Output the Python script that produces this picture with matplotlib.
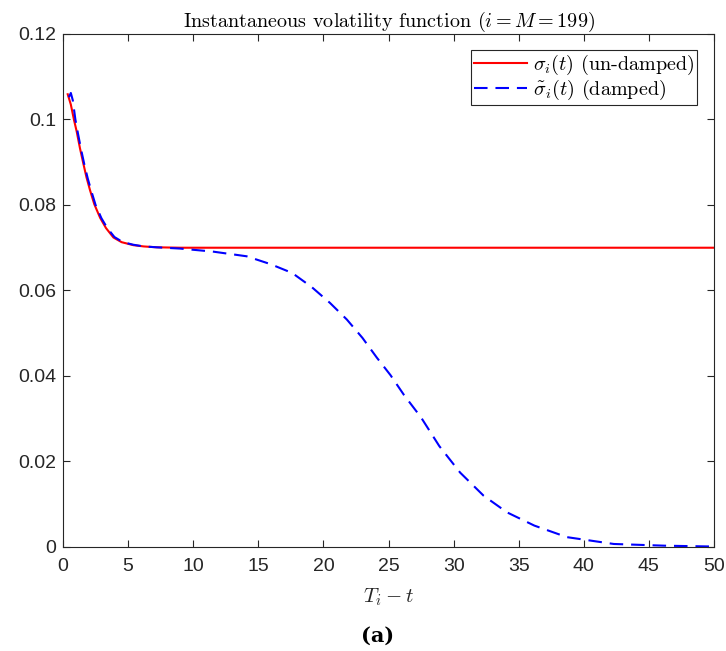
import numpy as np
import matplotlib
matplotlib.use("Agg")
import matplotlib.pyplot as plt

plt.rcParams['mathtext.fontset'] = 'cm'
plt.rcParams['font.family'] = ['Liberation Sans', 'DejaVu Sans']
plt.rcParams['axes.unicode_minus'] = False

# un-damped volatility
x_undamped = [0.36, 0.6, 0.85, 1.05, 1.3, 1.56, 1.8, 2.07, 2.4, 2.85, 3.3, 3.87, 4.5, 5.4, 6.2, 7.2, 9, 12, 20, 30,
              40, 50]
y_undamped = [0.1059, 0.1035, 0.0998, 0.0972, 0.0933, 0.0897, 0.0865, 0.0835, 0.0802, 0.0770, 0.0746, 0.0724, 0.0713,
              0.0706, 0.0703, 0.0701, 0.0700, 0.0700, 0.0700, 0.0700, 0.0700, 0.0700]

# damped volatility
x_damped = [0.45, 0.6, 0.75, 0.95, 1.15, 1.4, 1.65, 1.9, 2.17, 2.5, 2.95, 3.4, 3.95, 4.6, 5.4, 6.2, 7.2, 9, 11.5, 14.1,
            15.9, 17.6, 19.1, 20.5, 21.8, 23.0, 24.1, 25.15, 26.2, 27.5, 28.9, 30.5, 32.3, 34.1, 36.2, 38.7, 42.3,
            46.2, 50]
y_damped = [0.1052, 0.1062, 0.1045, 0.1000, 0.0967, 0.0928, 0.0893, 0.0862, 0.0833, 0.0800, 0.0769, 0.0746, 0.0725,
            0.0713, 0.0707, 0.0703, 0.0701, 0.0698, 0.0691, 0.0680, 0.0662, 0.0641, 0.0608, 0.0571, 0.0532, 0.0489,
            0.0443, 0.0402, 0.0355, 0.0303, 0.0236, 0.0174, 0.0120, 0.0081, 0.0050, 0.0023, 0.0007, 0.0003, 0.0001]

fig = plt.figure(figsize=(7.26, 6.51), dpi=100)
ax = fig.add_axes([0.0868, 0.1598, 0.8967, 0.788])

ax.plot(x_undamped, y_undamped, color='#ff0000', lw=1.5, label=r'$\sigma_i(t)$ (un-damped)')
ax.plot(x_damped, y_damped, color='#0000ff', lw=1.5, dashes=(6.5, 3.8), label=r'$\tilde{\sigma}_i(t)$ (damped)')

ax.set_xlim(0, 50)
ax.set_ylim(0, 0.12)
ax.set_xticks(range(0, 51, 5))
ax.set_yticks([0, 0.02, 0.04, 0.06, 0.08, 0.1, 0.12])
ax.set_yticklabels(['0', '0.02', '0.04', '0.06', '0.08', '0.1', '0.12'])

dark = '#262626'
for s in ax.spines.values():
    s.set_color(dark)
    s.set_linewidth(0.8)
ax.tick_params(direction='in', top=True, right=True, length=5, width=0.8, colors=dark, labelsize=14)
ax.tick_params(axis='x', pad=8)
ax.tick_params(axis='y', pad=5)

ax.set_title(r'Instantaneous volatility function ($i = M = 199$)', family='cmr10', fontsize=14.5, pad=5,
             color='black')
ax.set_xlabel(r'$T_i - t$', fontsize=15, color=dark, labelpad=8)

leg = ax.legend(loc='upper right', prop={'family': 'cmr10', 'size': 14.5}, fancybox=False, framealpha=1,
                edgecolor=dark, handlelength=2.6, borderpad=0.15, labelspacing=0.05, handletextpad=0.3,
                borderaxespad=0, bbox_to_anchor=(0.974, 0.969))
leg.get_frame().set_linewidth(0.8)

fig.text(0.52, 0.023, '(a)', ha='center', va='center', fontsize=15, fontweight='bold', family='DejaVu Serif')

fig.savefig('out.png', dpi=100)
